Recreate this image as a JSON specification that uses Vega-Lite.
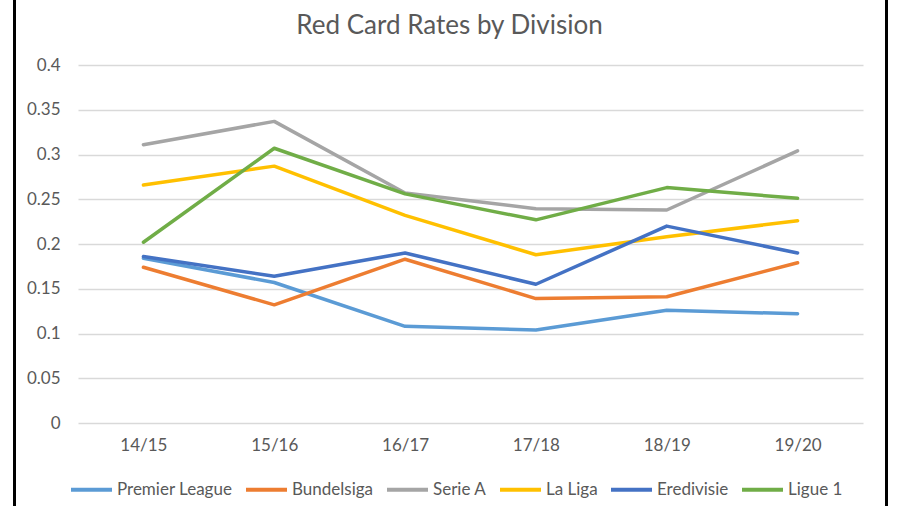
{
  "$schema": "https://vega.github.io/schema/vega-lite/v6.json",
  "width": 785,
  "height": 358,
  "autosize": {"type": "none"},
  "padding": {"left": 78, "top": 65, "right": 37, "bottom": 83},
  "background": "white",
  "title": {"text": "Red Card Rates by Division", "fontSize": 26, "font": "Lato", "fontWeight": "normal", "color": "#595959", "anchor": "middle", "offset": -71, "baseline": "alphabetic", "dx": -21},
  "config": {"view": {"stroke": null}, "font": "Lato"},
  "layer": [
    {
      "data": {"values": [
        {"division": "Premier League", "season": "14/15", "rate": 0.184},
        {"division": "Premier League", "season": "15/16", "rate": 0.157},
        {"division": "Premier League", "season": "16/17", "rate": 0.108},
        {"division": "Premier League", "season": "17/18", "rate": 0.104},
        {"division": "Premier League", "season": "18/19", "rate": 0.126},
        {"division": "Premier League", "season": "19/20", "rate": 0.122},
        {"division": "Bundelsiga", "season": "14/15", "rate": 0.174},
        {"division": "Bundelsiga", "season": "15/16", "rate": 0.132},
        {"division": "Bundelsiga", "season": "16/17", "rate": 0.183},
        {"division": "Bundelsiga", "season": "17/18", "rate": 0.139},
        {"division": "Bundelsiga", "season": "18/19", "rate": 0.141},
        {"division": "Bundelsiga", "season": "19/20", "rate": 0.179},
        {"division": "Serie A", "season": "14/15", "rate": 0.311},
        {"division": "Serie A", "season": "15/16", "rate": 0.337},
        {"division": "Serie A", "season": "16/17", "rate": 0.257},
        {"division": "Serie A", "season": "17/18", "rate": 0.2395},
        {"division": "Serie A", "season": "18/19", "rate": 0.238},
        {"division": "Serie A", "season": "19/20", "rate": 0.304},
        {"division": "La Liga", "season": "14/15", "rate": 0.266},
        {"division": "La Liga", "season": "15/16", "rate": 0.287},
        {"division": "La Liga", "season": "16/17", "rate": 0.232},
        {"division": "La Liga", "season": "17/18", "rate": 0.188},
        {"division": "La Liga", "season": "18/19", "rate": 0.208},
        {"division": "La Liga", "season": "19/20", "rate": 0.226},
        {"division": "Eredivisie", "season": "14/15", "rate": 0.186},
        {"division": "Eredivisie", "season": "15/16", "rate": 0.164},
        {"division": "Eredivisie", "season": "16/17", "rate": 0.190},
        {"division": "Eredivisie", "season": "17/18", "rate": 0.155},
        {"division": "Eredivisie", "season": "18/19", "rate": 0.220},
        {"division": "Eredivisie", "season": "19/20", "rate": 0.190},
        {"division": "Ligue 1", "season": "14/15", "rate": 0.202},
        {"division": "Ligue 1", "season": "15/16", "rate": 0.307},
        {"division": "Ligue 1", "season": "16/17", "rate": 0.256},
        {"division": "Ligue 1", "season": "17/18", "rate": 0.227},
        {"division": "Ligue 1", "season": "18/19", "rate": 0.263},
        {"division": "Ligue 1", "season": "19/20", "rate": 0.251}
      ]},
      "mark": {"type": "line", "strokeWidth": 3.5, "strokeCap": "round", "strokeJoin": "round"},
      "encoding": {
        "x": {"field": "season", "type": "ordinal", "sort": null,
          "scale": {"type": "point", "padding": 0.5},
          "axis": {"title": null, "labelAngle": 0, "ticks": false, "domain": false, "grid": false, "labelFontSize": 17, "labelColor": "#595959", "labelPadding": 14}},
        "y": {"field": "rate", "type": "quantitative",
          "scale": {"domain": [0, 0.4], "nice": false},
          "axis": {"title": null, "values": [0, 0.05, 0.1, 0.15, 0.2, 0.25, 0.3, 0.35, 0.4], "format": ".2~f", "ticks": false, "domain": false, "gridColor": "#d9d9d9", "gridWidth": 1.3, "labelFontSize": 17, "labelColor": "#595959", "labelPadding": 18}},
        "color": {"field": "division", "type": "nominal",
          "sort": ["Premier League", "Bundelsiga", "Serie A", "La Liga", "Eredivisie", "Ligue 1"],
          "scale": {"domain": ["Premier League", "Bundelsiga", "Serie A", "La Liga", "Eredivisie", "Ligue 1"], "range": ["#5B9BD5", "#ED7D31", "#A5A5A5", "#FFC000", "#4472C4", "#70AD47"]},
          "legend": {"orient": "none", "legendX": -9, "legendY": 402, "direction": "horizontal", "title": null, "symbolType": "stroke", "symbolSize": 1681, "symbolStrokeWidth": 4, "labelFontSize": 17, "labelColor": "#595959", "labelOffset": 3, "columnPadding": 5, "padding": 0}}
      }
    },
    {
      "data": {"values": [{"f": 0}, {"f": 1}]},
      "mark": {"type": "point", "opacity": 0},
      "encoding": {
        "x": {"field": "f", "type": "quantitative",
          "scale": {"domain": [0, 1], "range": [-64, 808]},
          "axis": {"orient": "top", "values": [0, 1], "offset": -455, "tickSize": 530, "tickWidth": 3, "tickColor": "black", "labels": false, "domain": false, "grid": false, "title": null}}
      }
    }
  ],
  "resolve": {"scale": {"x": "independent"}, "axis": {"x": "independent"}}
}
